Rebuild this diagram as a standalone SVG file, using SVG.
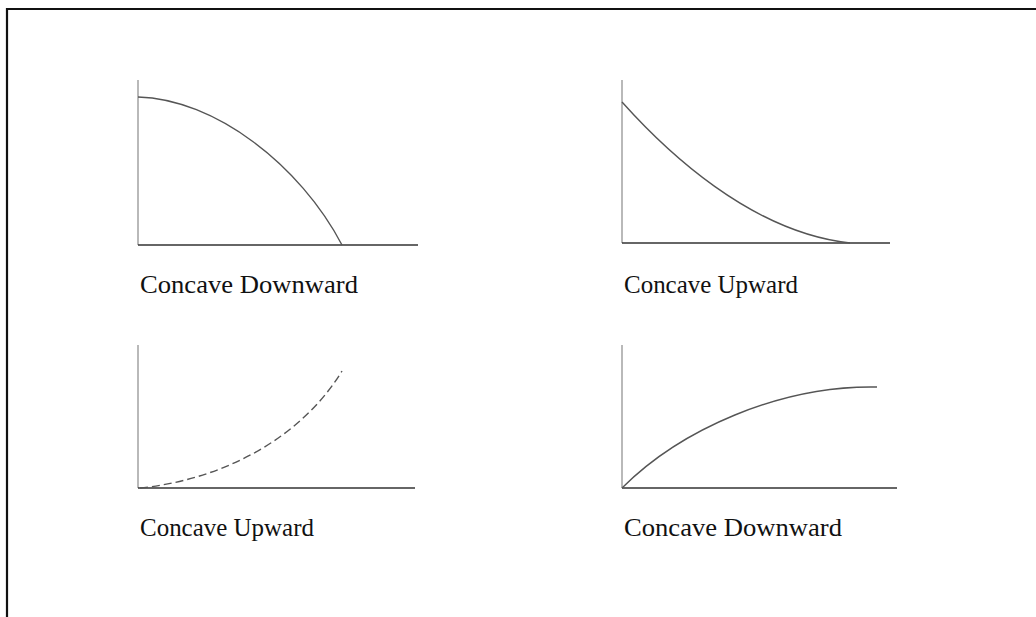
<svg xmlns="http://www.w3.org/2000/svg" width="1036" height="617" viewBox="0 0 1036 617">
<style>
.frame{fill:none;stroke:#111;stroke-width:2.2}
.yaxis{fill:none;stroke:#8a8a8a;stroke-width:1.2}
.xaxis{fill:none;stroke:#333;stroke-width:1.6}
.curve{fill:none;stroke:#555;stroke-width:1.4}
.dash{stroke-dasharray:8 4}
.label{font-family:"Liberation Serif","Times New Roman",serif;font-size:26px;fill:#111}
</style>
<rect width="1036" height="617" fill="#fff"/>
<g id="frame">
<path class="frame" d="M7,617 L7,9 L1036,9"/>
</g>
<g id="chart-tl">
<path class="yaxis" d="M138,80 L138,245"/>
<path class="xaxis" d="M138,245 L418,245"/>
<path class="curve" d="M138,97 C215,99 300,165 342,245"/>
<text class="label" x="140" y="293" textLength="218" lengthAdjust="spacingAndGlyphs">Concave Downward</text>
</g>
<g id="chart-tr">
<path class="yaxis" d="M622,80 L622,243"/>
<path class="xaxis" d="M622,243 L890,243"/>
<path class="curve" d="M622,102 C665,150 750,232 850,243"/>
<text class="label" x="624" y="293" textLength="174" lengthAdjust="spacingAndGlyphs">Concave Upward</text>
</g>
<g id="chart-bl">
<path class="yaxis" d="M138,345 L138,488"/>
<path class="xaxis" d="M138,488 L415,488"/>
<path class="curve dash" d="M140,488 C220,480 300,440 342,371"/>
<text class="label" x="140" y="536" textLength="174" lengthAdjust="spacingAndGlyphs">Concave Upward</text>
</g>
<g id="chart-br">
<path class="yaxis" d="M622,345 L622,488"/>
<path class="xaxis" d="M622,488 L897,488"/>
<path class="curve" d="M622,488 C680,430 780,385 877,387"/>
<text class="label" x="624" y="536" textLength="218" lengthAdjust="spacingAndGlyphs">Concave Downward</text>
</g>
<g id="connectors"></g>
</svg>
